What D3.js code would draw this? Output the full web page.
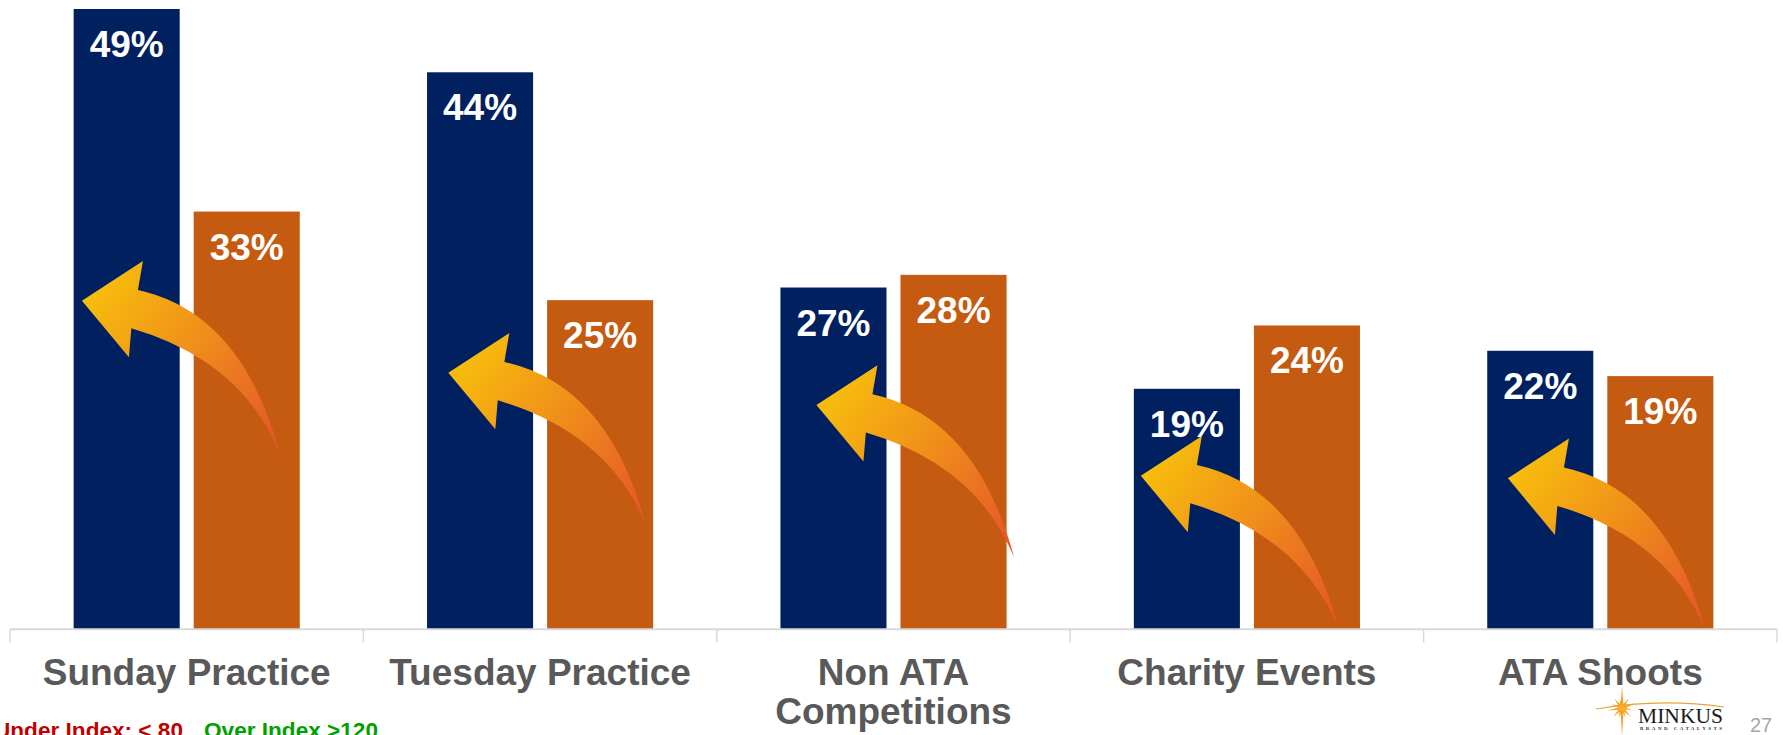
<!DOCTYPE html>
<html>
<head>
<meta charset="utf-8">
<script src="https://cdn.jsdelivr.net/npm/d3@7/dist/d3.min.js"></script>
<style>
  html, body { margin: 0; padding: 0; background: #ffffff; }
  svg { display: block; font-family: "Liberation Sans", Arial, sans-serif; }
</style>
</head>
<body>
<svg id="chart" width="1783" height="735"></svg>
<script>
// ---------- data ----------
const categories = ["Sunday Practice", "Tuesday Practice", "Non ATA Competitions", "Charity Events", "ATA Shoots"];
const categoryLines = [["Sunday Practice"], ["Tuesday Practice"], ["Non ATA", "Competitions"], ["Charity Events"], ["ATA Shoots"]];
const seriesNames = ["Total", "Segment"];
const series1 = [49, 44, 27, 19, 22];
const series2 = [33, 26, 28, 24, 20];
const labels1 = ["49%", "44%", "27%", "19%", "22%"];
const labels2 = ["33%", "25%", "28%", "24%", "19%"];
const footerUnder = "Under Index: < 80";
const footerOver = "Over Index >120";
const pageNumber = "27";

// ---------- layout ----------
const W = 1783, H = 735;
const baseY = 629.3;
const svg = d3.select("#chart");

const x = d3.scaleBand().domain(categories).range([10, 1777]).paddingInner(0).paddingOuter(0);
const xs = d3.scaleBand().domain([0, 1]).range([0, x.bandwidth()]).paddingInner(14 / 120).paddingOuter(0.53);
const y = d3.scaleLinear().domain([0, 49]).range([baseY, 9]);

const colors = ["#002060", "#c55a11"];

// bars
const rows = categories.map((c, i) => ({ c, i, vals: [series1[i], series2[i]], labs: [labels1[i], labels2[i]] }));
const g = svg.append("g");
const groups = g.selectAll("g.grp").data(rows).join("g")
  .attr("class", "grp")
  .attr("transform", d => `translate(${x(d.c)},0)`);

groups.selectAll("rect").data(d => d.vals.map((v, k) => ({ v, k }))).join("rect")
  .attr("x", d => xs(d.k))
  .attr("width", xs.bandwidth())
  .attr("y", d => y(d.v))
  .attr("height", d => baseY - y(d.v))
  .attr("fill", d => colors[d.k]);

groups.selectAll("text.val").data(d => d.vals.map((v, k) => ({ v, k, lab: d.labs[k] }))).join("text")
  .attr("class", "val")
  .attr("x", d => xs(d.k) + xs.bandwidth() / 2)
  .attr("y", d => y(d.v) + 48)
  .attr("text-anchor", "middle")
  .attr("fill", "#ffffff")
  .attr("font-weight", "bold")
  .attr("font-size", 37)
  .text(d => d.lab);

// ---------- curved arrows (decoration) ----------
const defs = svg.append("defs");
const grad = defs.append("linearGradient")
  .attr("id", "arrowGrad")
  .attr("gradientUnits", "userSpaceOnUse")
  .attr("x1", 0).attr("y1", 0).attr("x2", 198).attr("y2", 153);
grad.append("stop").attr("offset", "0%").attr("stop-color", "#f7be0c");
grad.append("stop").attr("offset", "45%").attr("stop-color", "#f0901a");
grad.append("stop").attr("offset", "100%").attr("stop-color", "#e4522a");

const arrowPath = "M0,0 L61,-39.7 L56,-10.7 Q160,12 197.7,152.6 Q160,60 49.4,27.6 L47,56.6 Z";
// tip offsets relative to the first bar's left edge, and tip heights
const arrowOffsetX = [8.3, 21.3, 36, 7, 20.7];
const arrowTipY = [300.7, 372.7, 405, 475.7, 478.3];

const arrows = svg.append("g");
categories.forEach((c, i) => {
  arrows.append("path")
    .attr("transform", `translate(${x(c) + xs(0) + arrowOffsetX[i]},${arrowTipY[i]})`)
    .attr("d", arrowPath)
    .attr("fill", "url(#arrowGrad)");
});

// ---------- axis ----------
const axisG = svg.append("g");
axisG.append("line")
  .attr("x1", x.range()[0]).attr("x2", x.range()[1])
  .attr("y1", baseY).attr("y2", baseY)
  .attr("stroke", "#d9d9d9").attr("stroke-width", 2);
const boundaries = categories.map(c => x(c)).concat([x.range()[1]]);
axisG.selectAll("line.tick").data(boundaries).join("line")
  .attr("class", "tick")
  .attr("x1", d => d).attr("x2", d => d)
  .attr("y1", baseY).attr("y2", baseY + 13)
  .attr("stroke", "#d9d9d9").attr("stroke-width", 1.5);

const catText = svg.append("g").selectAll("text").data(rows).join("text")
  .attr("x", d => x(d.c) + x.bandwidth() / 2)
  .attr("y", 685)
  .attr("text-anchor", "middle")
  .attr("fill", "#595959")
  .attr("font-weight", "bold")
  .attr("font-size", 37);
catText.selectAll("tspan").data(d => categoryLines[d.i].map(t => ({ t, cx: x(d.c) + x.bandwidth() / 2 }))).join("tspan")
  .attr("x", d => d.cx)
  .attr("dy", (d, j) => j === 0 ? 0 : 38.5)
  .text(d => d.t);

// ---------- footer ----------
svg.append("text")
  .attr("x", -6).attr("y", 738)
  .attr("fill", "#c00000").attr("font-weight", "bold").attr("font-size", 22.6)
  .text(footerUnder);
svg.append("text")
  .attr("x", 204).attr("y", 738)
  .attr("fill", "#00a000").attr("font-weight", "bold").attr("font-size", 22.6)
  .text(footerOver);

svg.append("text")
  .attr("x", 1750).attr("y", 731.5)
  .attr("fill", "#a6a6a6").attr("font-size", 20)
  .text(pageNumber);

// logo
const logo = svg.append("g");
logo.append("path")
  .attr("d", "M1596,709 Q1660,698 1724,707")
  .attr("fill", "none").attr("stroke", "#e8a33a").attr("stroke-width", 1.2);
const starC = [1622, 708];
const rays = [[0, 22], [35, 12], [70, 14], [100, 10], [135, 12], [160, 10], [180, 28], [200, 10], [225, 12], [260, 14], [290, 11], [320, 12], [345, 9]];
rays.forEach(([a, r]) => {
  const rad = (a - 90) * Math.PI / 180;
  const ex = starC[0] + Math.cos(rad) * r, ey = starC[1] + Math.sin(rad) * r;
  const px = -Math.sin(rad) * 1.6, py = Math.cos(rad) * 1.6;
  logo.append("path")
    .attr("d", `M${starC[0] + px},${starC[1] + py} L${ex},${ey} L${starC[0] - px},${starC[1] - py} Z`)
    .attr("fill", "#f5a020");
});
logo.append("circle").attr("cx", starC[0]).attr("cy", starC[1]).attr("r", 3).attr("fill", "#f7b030");
logo.append("text")
  .attr("x", 1638).attr("y", 723.3)
  .attr("font-family", "'Liberation Serif', 'Times New Roman', serif")
  .attr("font-size", 20.5).attr("fill", "#1a1a1a")
  .attr("textLength", 85).attr("lengthAdjust", "spacingAndGlyphs")
  .text("MINKUS");
logo.append("text")
  .attr("x", 1640).attr("y", 730)
  .attr("font-family", "'Liberation Serif', 'Times New Roman', serif")
  .attr("font-size", 5).attr("font-weight", "bold").attr("fill", "#333")
  .attr("textLength", 82).attr("lengthAdjust", "spacing")
  .text("BRAND CATALYSTS");
</script>
</body>
</html>
